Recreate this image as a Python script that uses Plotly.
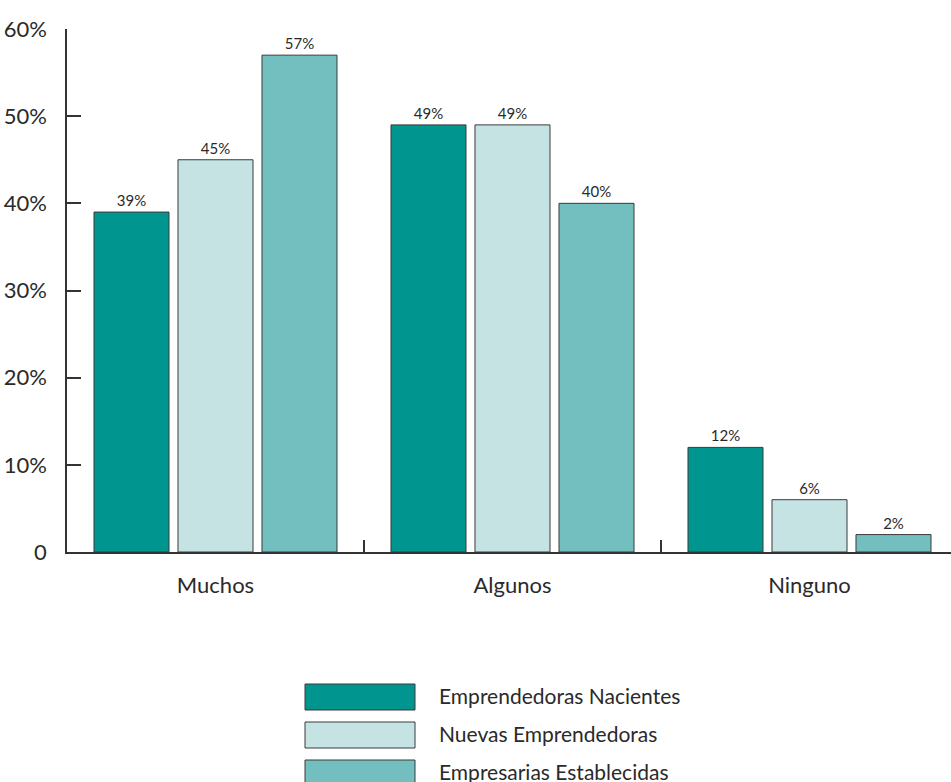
import plotly.graph_objects as go

categories = ["Muchos", "Algunos", "Ninguno"]
series_names = ["Emprendedoras Nacientes", "Nuevas Emprendedoras", "Empresarias Establecidas"]
values_nacientes = [39, 49, 12]
values_nuevas = [45, 49, 6]
values_establecidas = [57, 40, 2]
series_values = [values_nacientes, values_nuevas, values_establecidas]
colors = ["#00958F", "#C5E3E3", "#73BFBF"]
y_tickvals = [0, 10, 20, 30, 40, 50, 60]
y_ticktext = ["0", "10%", "20%", "30%", "40%", "50%", "60%"]

FONT = "Lato, 'Open Sans', sans-serif"
TXT = "#2a2a2a"

W, H = 951, 782
ML, MR, MT, MB = 67, 0, 29, 230
PW = W - ML - MR
PH = H - MT - MB

fig = go.Figure()
for name, vals, col in zip(series_names, series_values, colors):
    fig.add_trace(go.Bar(
        x=categories, y=vals, name=name,
        marker=dict(color=col, line=dict(color="#3a3a3a", width=1)),
        text=[f"{v}%" for v in vals], textposition="outside",
        textfont=dict(size=15, color=TXT, family=FONT),
        cliponaxis=False, showlegend=False,
    ))

# custom legend (large swatches)
def px_x(x):
    return (x - ML) / PW

def px_y(y):
    return (MT + PH - y) / PH

row_tops = [684, 722, 760]
for name, col, top in zip(series_names, colors, row_tops):
    fig.add_shape(type="rect", xref="paper", yref="paper",
                  x0=px_x(305), x1=px_x(415), y0=px_y(top), y1=px_y(top + 26),
                  fillcolor=col, line=dict(color="#3a3a3a", width=1))
    fig.add_annotation(xref="paper", yref="paper", x=px_x(437), y=px_y(top + 11),
                       text=name, showarrow=False, xanchor="left", yanchor="middle",
                       font=dict(size=21, color=TXT, family=FONT))

fig.update_layout(
    width=W, height=H,
    margin=dict(l=ML, r=MR, t=MT, b=MB, pad=0),
    paper_bgcolor="white", plot_bgcolor="white",
    barmode="group", bargap=0.1515, bargroupgap=0.107,
    font=dict(family=FONT, color=TXT),
)
fig.update_xaxes(
    range=[-0.5, 2.5 - 7 / 297],
    showline=True, linecolor="#333333", linewidth=1.5,
    ticks="inside", ticklen=12, tickwidth=1.5, tickcolor="#333333",
    tickson="boundaries", showgrid=False,
    tickfont=dict(size=22, color=TXT, family=FONT),
    ticklabelstandoff=13,
)
fig.update_yaxes(
    range=[0, 60], tickvals=y_tickvals, ticktext=y_ticktext,
    showline=True, linecolor="#333333", linewidth=1.5,
    ticks="inside", ticklen=14, tickwidth=1.5, tickcolor="#333333",
    showgrid=False, zeroline=False,
    tickfont=dict(size=22, color=TXT, family=FONT),
    ticklabelstandoff=14,
)

fig.write_html("out.html")
